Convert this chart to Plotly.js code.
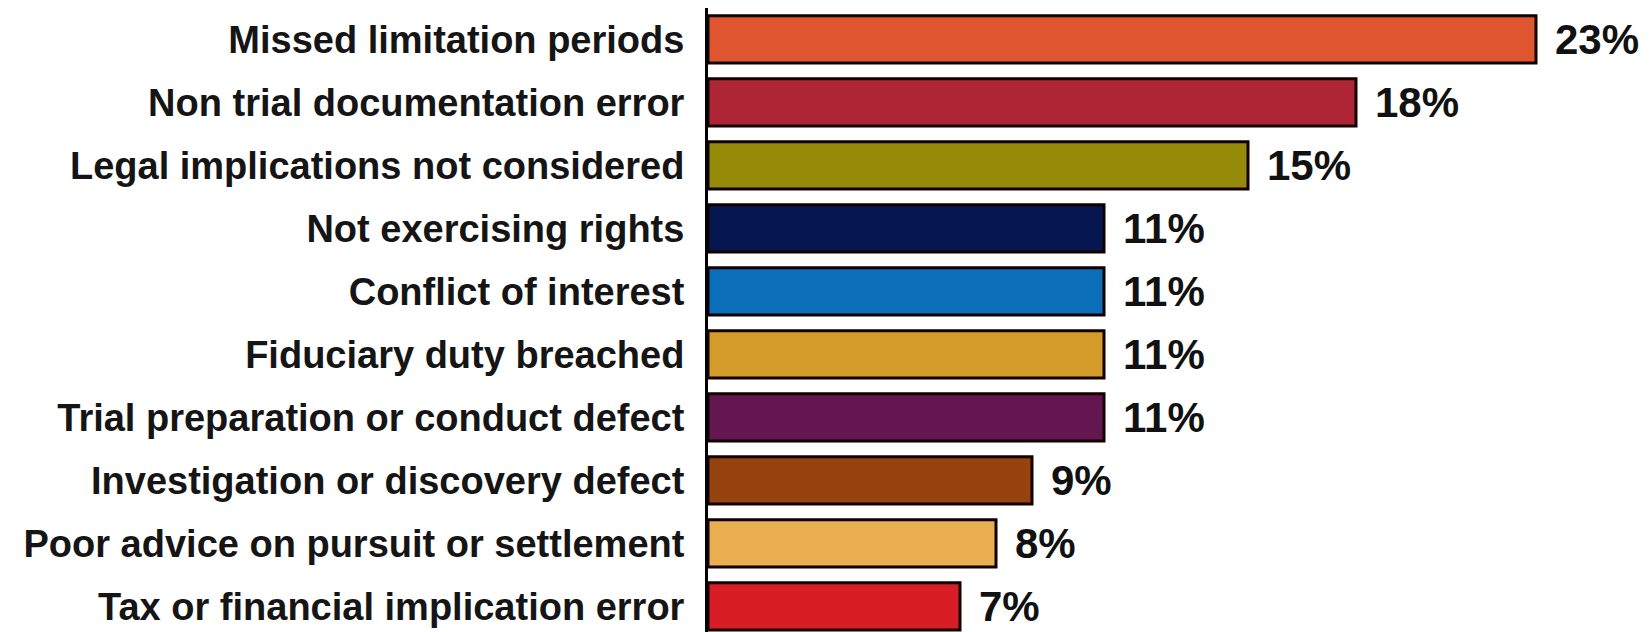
<!DOCTYPE html>
<html>
<head>
<meta charset="utf-8">
<script src="https://cdn.plot.ly/plotly-3.0.1.min.js"></script>
<style>html,body{margin:0;padding:0;background:#fff;}#chart{width:1652px;height:632px;}</style>
</head>
<body>
<div id="chart"></div>
<script>
const categories = [
  "Missed limitation periods",
  "Non trial documentation error",
  "Legal implications not considered",
  "Not exercising rights",
  "Conflict of interest",
  "Fiduciary duty breached",
  "Trial preparation or conduct defect",
  "Investigation or discovery defect",
  "Poor advice on pursuit or settlement",
  "Tax or financial implication error"
];
const values = [23, 18, 15, 11, 11, 11, 11, 9, 8, 7];
const valueLabels = ["23%", "18%", "15%", "11%", "11%", "11%", "11%", "9%", "8%", "7%"];
const barColors = ["#DE5530", "#AE2636", "#958B08", "#061650", "#0A6EB8",
                   "#D49A2A", "#631650", "#964310", "#E8AE50", "#D81E24"];

const trace = {
  type: "bar",
  orientation: "h",
  y: categories,
  x: values,
  marker: { color: barColors, line: { color: "#120000", width: 3 } },
  hoverinfo: "none"
};

const annotations = categories.map((c, i) => ({
  x: values[i], y: c, xref: "x", yref: "y",
  text: valueLabels[i], showarrow: false,
  xanchor: "left", yanchor: "middle", xshift: 17,
  font: { family: "Liberation Sans, Arial, sans-serif", size: 42, color: "#111111", weight: "bold" }
}));

const layout = {
  width: 1652, height: 632,
  margin: { l: 708, r: 8, t: 8, b: 0 },
  paper_bgcolor: "#ffffff", plot_bgcolor: "#ffffff",
  bargap: 0.25,
  showlegend: false,
  xaxis: { range: [0, 26], visible: false, showgrid: false, zeroline: false },
  yaxis: {
    type: "category",
    range: [9.405, -0.5],
    showline: true, linecolor: "#000000", linewidth: 3,
    showgrid: false, zeroline: false, ticks: "",
    ticklabelstandoff: 13,
    tickfont: { family: "Liberation Sans, Arial, sans-serif", size: 38, color: "#151515", weight: "bold" }
  },
  annotations: annotations
};

Plotly.newPlot("chart", [trace], layout, { displayModeBar: false, staticPlot: true });
</script>
</body>
</html>
